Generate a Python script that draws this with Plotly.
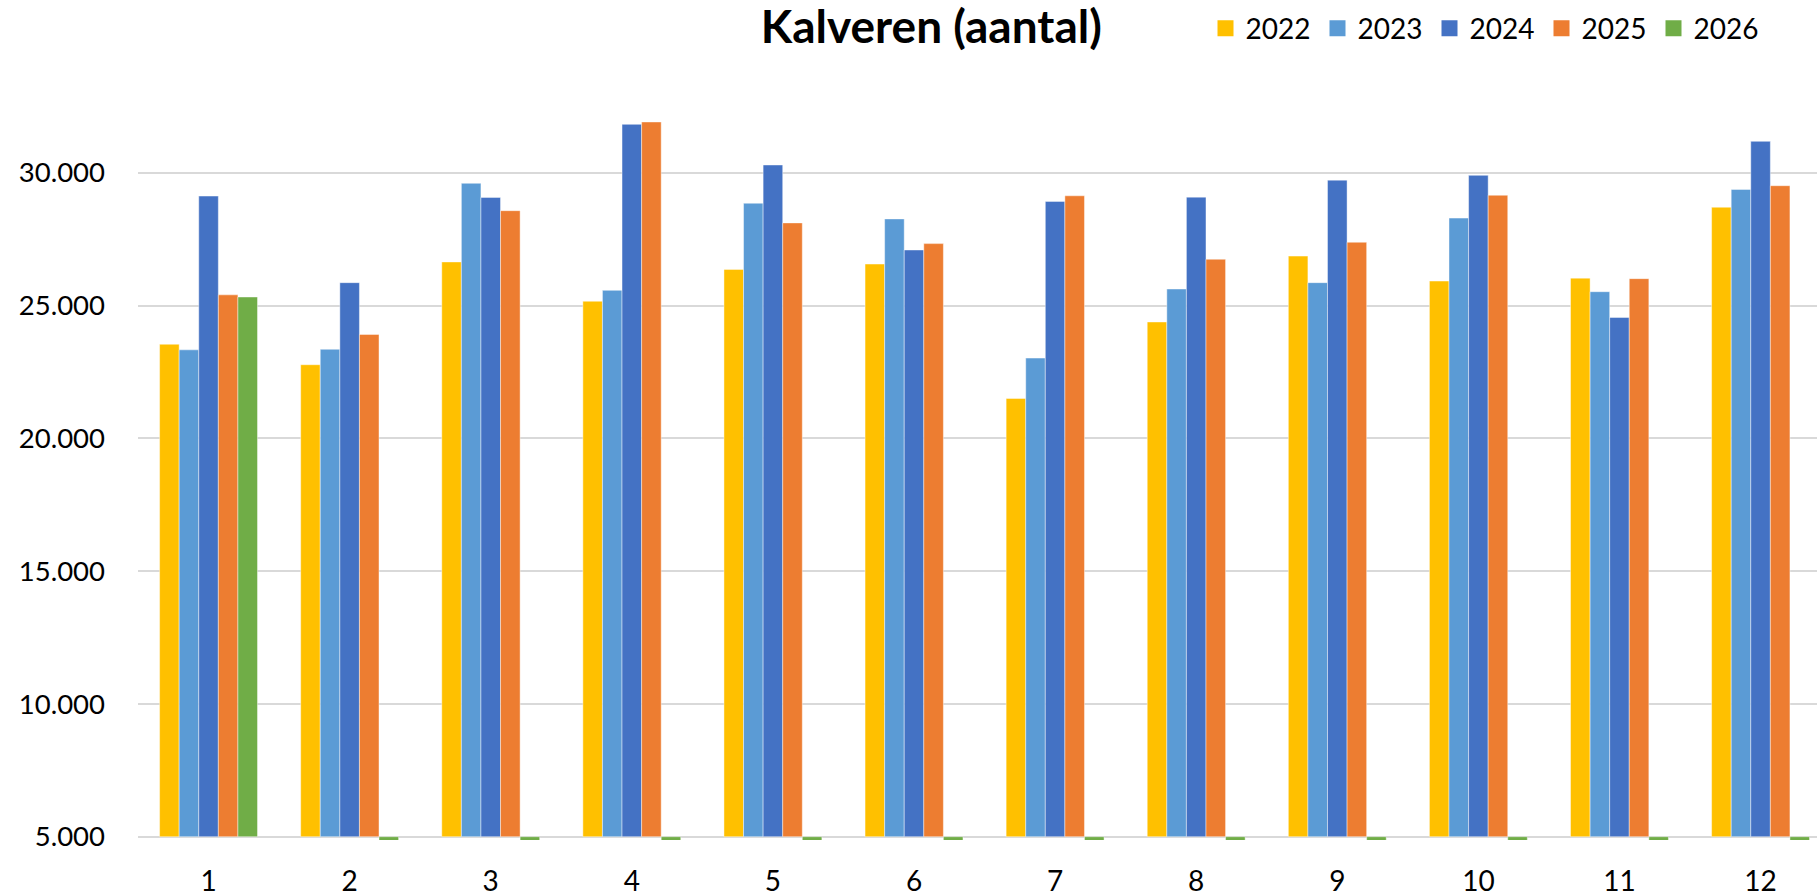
import plotly.graph_objects as go

months = list(range(1, 13))
month_labels = [str(m) for m in months]

years = ["2022", "2023", "2024", "2025", "2026"]
v2022 = [23540, 22770, 26640, 25160, 26360, 26560, 21500, 24380, 26860, 25920, 26030, 28700]
v2023 = [23330, 23350, 29600, 25570, 28850, 28260, 23020, 25620, 25860, 28290, 25520, 29370]
v2024 = [29120, 25860, 29070, 31820, 30290, 27090, 28920, 29080, 29720, 29900, 24550, 31180]
v2025 = [25400, 23910, 28570, 31910, 28110, 27330, 29130, 26740, 27380, 29150, 26010, 29510]
v2026 = [25320, 0, 0, 0, 0, 0, 0, 0, 0, 0, 0, 0]
series = [v2022, v2023, v2024, v2025, v2026]

y_tick_vals = [5000, 10000, 15000, 20000, 25000, 30000]

colors = ["#FFC000", "#5B9BD5", "#4472C4", "#ED7D31", "#70AD47"]
AXIS_CROSS = 5000  # Excel: bars grow from the horizontal axis crossing value
FONT = "Lato, 'Liberation Sans', sans-serif"

fig = go.Figure()
for name, vals, col in zip(years, series, colors):
    fig.add_trace(go.Bar(
        name=name,
        x=months,
        y=[v - AXIS_CROSS for v in vals],
        base=AXIS_CROSS,
        customdata=vals,
        hovertemplate="%{x}: %{customdata}<extra>" + name + "</extra>",
        marker=dict(color=col, line=dict(color="rgba(255,255,255,0.55)", width=0.8)),
        legendgroup=name, showlegend=False,
    ))
# legend entries with larger square swatches (Excel style)
for name, col in zip(years, colors):
    fig.add_trace(go.Scatter(
        x=[None], y=[None], mode="markers", name=name, legendgroup=name,
        marker=dict(symbol="square", size=16, color=col), showlegend=True,
        hoverinfo="skip",
    ))

fig.update_layout(
    width=1817, height=894,
    paper_bgcolor="white", plot_bgcolor="white",
    barmode="group", bargap=0.306, bargroupgap=0,
    separators=",.",
    font=dict(family=FONT, color="#000000", size=28),
    margin=dict(l=138, r=0, t=80, b=54, autoexpand=False),
    title=dict(text="<b>Kalveren (aantal)</b>", font=dict(family=FONT, size=46, color="#000000"),
               x=931.3 / 1817, xanchor="center", xref="container",
               y=1 - 26.5 / 894, yanchor="middle", yref="container"),
    legend=dict(orientation="h", x=1205.5 / 1817, xanchor="left", xref="container",
                y=1 - 28.5 / 894, yanchor="middle", yref="container",
                font=dict(family=FONT, size=28),
                entrywidth=67, traceorder="normal", bgcolor="rgba(0,0,0,0)"),
    showlegend=True,
)
fig.update_xaxes(
    tickmode="array", tickvals=months, ticktext=month_labels,
    range=[0.5, 12.40], showgrid=False, zeroline=False, showline=False,
    ticks="", ticklabelstandoff=22, tickfont=dict(family=FONT, size=28), automargin=False,
)
fig.update_yaxes(
    range=[4876, 33490], tickmode="array", tickvals=y_tick_vals, tickformat=",.0f",
    showgrid=True, gridcolor="#D9D9D9", gridwidth=1.5, zeroline=False, showline=False,
    ticks="", ticklabelstandoff=32, tickfont=dict(family=FONT, size=27.5), automargin=False,
)

fig.write_html("out.html", config={"displayModeBar": False},
               post_script="document.body.style.margin='0';document.body.style.padding='0';")
